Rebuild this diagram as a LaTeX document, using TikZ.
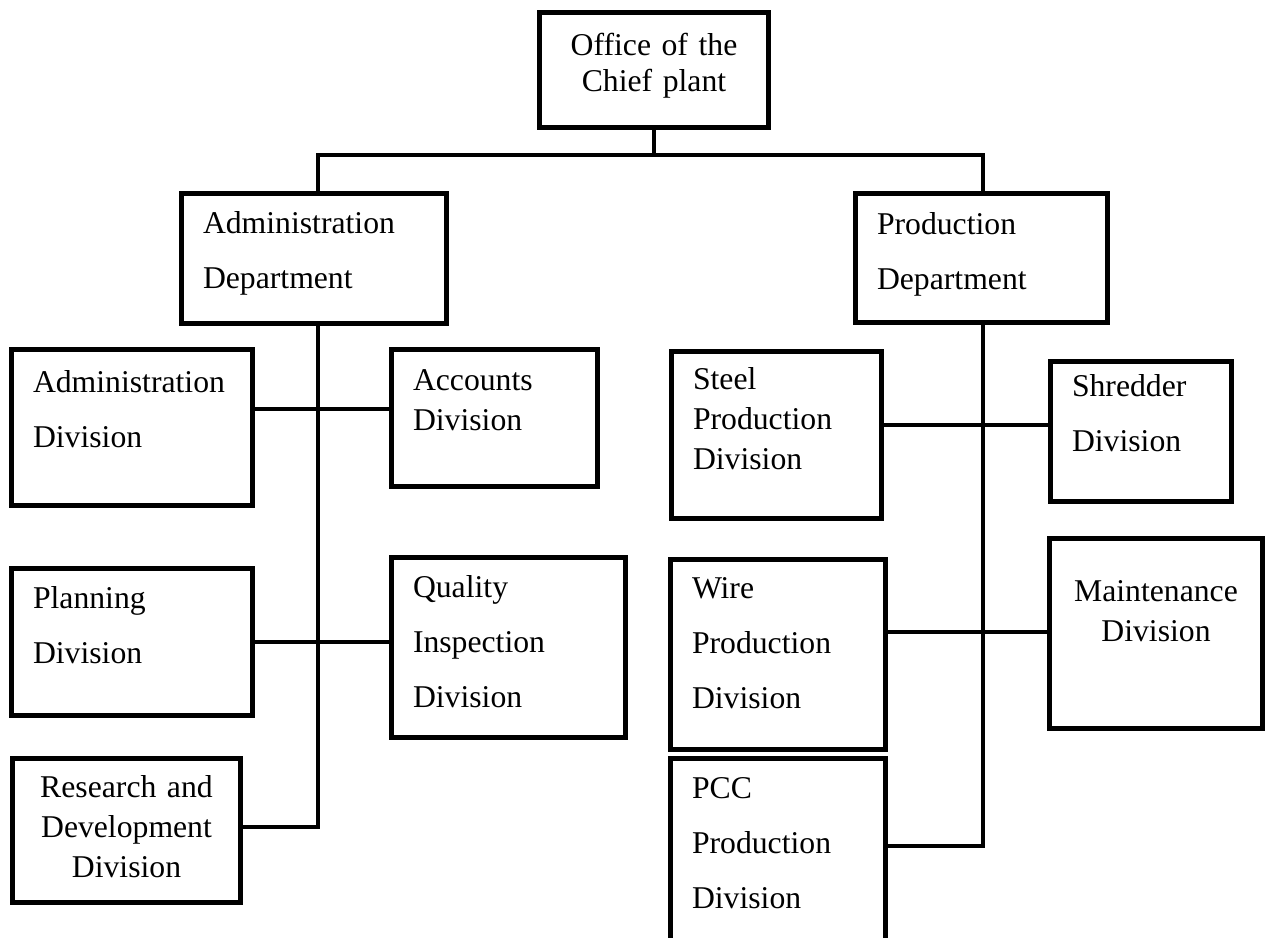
\documentclass[tikz,border=0pt]{standalone}
\usepackage{fontspec}
\setmainfont{Liberation Serif}
\usetikzlibrary{calc}

\tikzset{
	unit/.style={draw, line width=5pt, inner xsep=21.5pt, inner ysep=0pt, align=left,
		font=\fontsize{31.7}{55}\selectfont},
	single/.style={font=\fontsize{31.7}{40}\selectfont},
	middle/.style={inner xsep=0pt, align=center},
	link/.style={line width=3.5pt},
}

\begin{document}
\begin{tikzpicture}[x=1pt, y=-1pt]
	\fill[white] (0,0) rectangle (1266,937);
	\clip (0,0) rectangle (1266,937);

	% top of the chart
	\node[unit, middle, font=\fontsize{31.7}{36}\selectfont, text width=229pt, text height=42.5pt, text depth=72.5pt] (chief) at (654,70) {Office of the\\Chief plant};
	\node[unit, text width=222pt, text height=39.5pt, text depth=90.5pt] (adm) at (314,258.5) {Administration\\Department};
	\node[unit, text width=209pt, text height=40.5pt, text depth=88.5pt] (prd) at (981.5,258) {Production\\Department};

	% administration side
	\node[unit, text width=198pt, text height=42.5pt, text depth=113.5pt] (admd) at (132,427.5) {Administration\\Division};
	\node[unit, single, text width=163pt, text height=40.5pt, text depth=96.5pt] (acc) at (494.5,418) {Accounts\\Division};
	\node[unit, text width=198pt, text height=39.5pt, text depth=107.5pt] (pln) at (132,642) {Planning\\Division};
	\node[unit, text width=191pt, text height=39.5pt, text depth=140.5pt] (qua) at (508.5,647.5) {Quality\\Inspection\\Division};
	\node[unit, single, middle, text width=228pt, text height=38.5pt, text depth=105.5pt] (rnd) at (126.5,830.5) {Research and\\Development\\Division};

	% production side
	\node[unit, single, text width=167pt, text height=37.5pt, text depth=129.5pt] (stl) at (776.5,435) {Steel\\Production\\Division};
	\node[unit, text width=138pt, text height=34.5pt, text depth=105.5pt] (shr) at (1141,431.5) {Shredder\\Division};
	\node[unit, text width=172pt, text height=38.5pt, text depth=151.5pt] (wir) at (778,654.5) {Wire\\Production\\Division};
	\node[unit, single, middle, text width=213pt, text height=62.5pt, text depth=127.5pt] (mnt) at (1156,633.5) {Maintenance\\Division};
	\node[unit, text width=172pt, text height=39.5pt, text depth=162pt] (pcc) at (778,859.25) {PCC\\Production\\Division};

	% bus and trunk points
	\coordinate (hub) at (654,155);
	\coordinate (lbus) at (318,155);
	\coordinate (rbus) at (983,155);
	\coordinate (la) at (318,409);
	\coordinate (lb) at (318,642);
	\coordinate (lc) at (318,827);
	\coordinate (ra) at (983,425);
	\coordinate (rb) at (983,632);
	\coordinate (rc) at (983,846);

	\draw[link] (chief) -- (hub);
	\draw[link] (lbus |- adm.north) -- (lbus) -- (rbus) -- (rbus |- prd.north);
	\draw[link] (lbus |- adm.south) -- (lc) -- (rnd.east |- lc);
	\draw[link] (rbus |- prd.south) -- (rc) -- (pcc.east |- rc);
	\draw[link] (admd.east |- la) -- (acc.west |- la);
	\draw[link] (pln.east |- lb) -- (qua.west |- lb);
	\draw[link] (stl.east |- ra) -- (shr.west |- ra);
	\draw[link] (wir.east |- rb) -- (mnt.west |- rb);
\end{tikzpicture}
\end{document}
